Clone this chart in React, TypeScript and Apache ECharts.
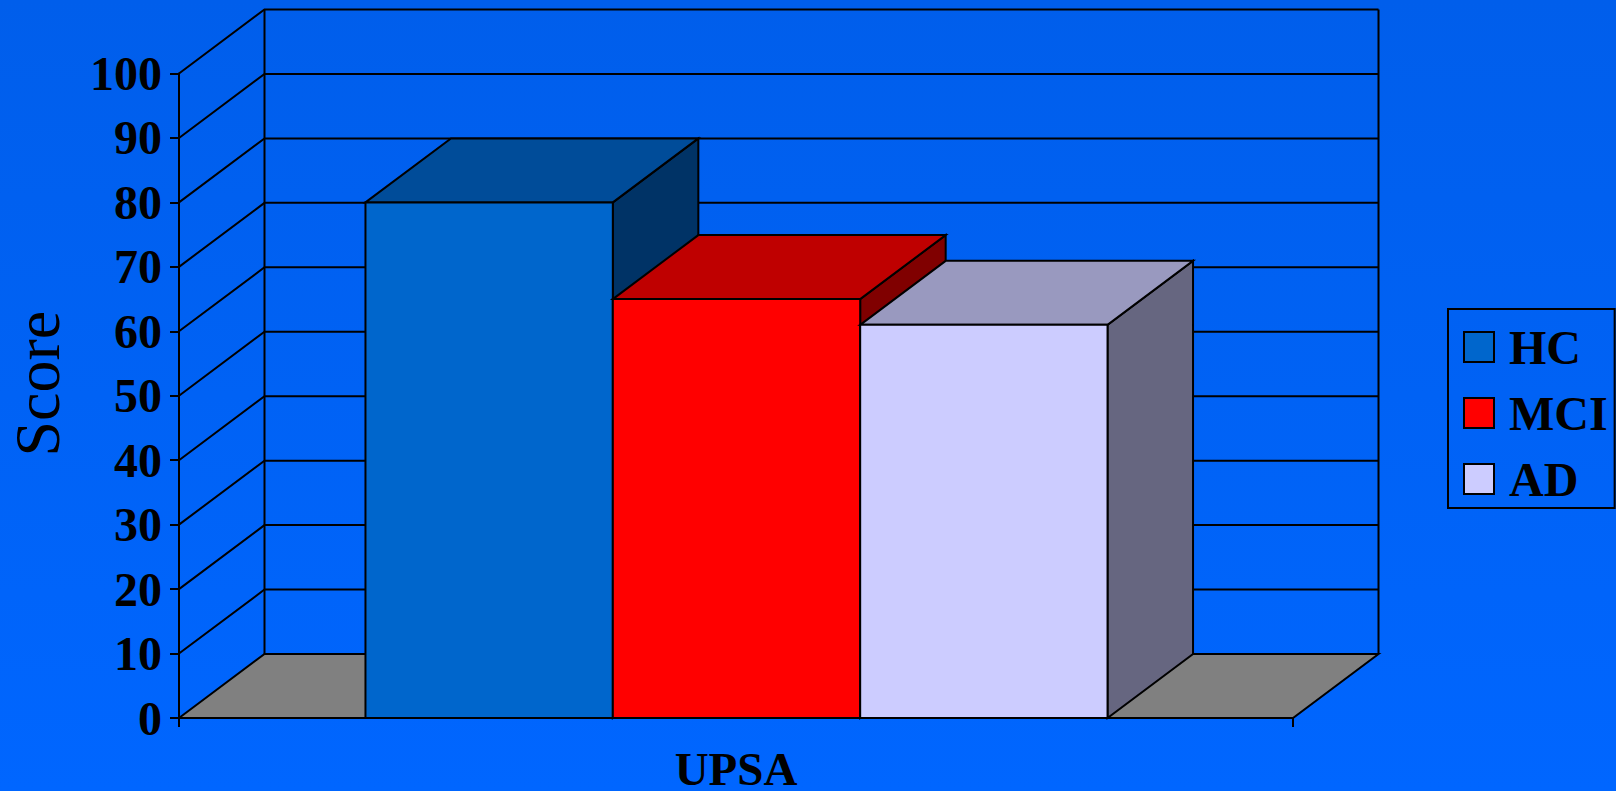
import React, { useEffect, useRef } from "react";
import * as echarts from "echarts";

const categories = ["UPSA"];
const yTicks = [10, 20, 30, 40, 50, 60, 70, 80, 90, 100];
const hcValues = [80];
const mciValues = [65];
const adValues = [61];

const FONT = "'Liberation Serif', 'Times New Roman', serif";
const DX = 85.5;
const DY = -64;
const LINE = 2;
const STROKE = { stroke: "#000", lineWidth: LINE };

function wallItem(_p: any, api: any) {
  const v = api.value(0);
  const c = api.coord([0, v]);
  const band = api.size([1, 0])[0];
  const left = c[0] - band / 2;
  const right = c[0] + band / 2;
  return {
    type: "polyline",
    shape: { points: [[left, c[1]], [left + DX, c[1] + DY], [right + DX, c[1] + DY]] },
    style: { ...STROKE, fill: "none" },
  };
}

function floorItem(_p: any, api: any) {
  const c = api.coord([0, 0]);
  const top = api.coord([0, 100]);
  const band = api.size([1, 0])[0];
  const left = c[0] - band / 2;
  const right = c[0] + band / 2;
  return {
    type: "group",
    children: [
      {
        type: "polygon",
        shape: { points: [[left, c[1]], [left + DX, c[1] + DY], [right + DX, c[1] + DY], [right, c[1]]] },
        style: { ...STROKE, fill: "#808080" },
      },
      {
        type: "line",
        shape: { x1: left + DX, y1: c[1] + DY, x2: left + DX, y2: top[1] + DY },
        style: STROKE,
      },
      {
        type: "line",
        shape: { x1: right + DX, y1: c[1] + DY, x2: right + DX, y2: top[1] + DY },
        style: STROKE,
      },
    ],
  };
}

function barItem(index: number, front: string, topFace: string, side: string) {
  return (_p: any, api: any) => {
    const t = api.coord([0, api.value(0)]);
    const b = api.coord([0, 0]);
    const band = api.size([1, 0])[0];
    const w = (band * 2) / 9 - 0.2;
    const x0 = t[0] + (index - 1.5) * w + 0.5;
    const x1 = x0 + w;
    return {
      type: "group",
      children: [
        {
          type: "polygon",
          shape: { points: [[x1, t[1]], [x1 + DX, t[1] + DY], [x1 + DX, b[1] + DY], [x1, b[1]]] },
          style: { ...STROKE, fill: side },
        },
        {
          type: "polygon",
          shape: { points: [[x0, t[1]], [x0 + DX, t[1] + DY], [x1 + DX, t[1] + DY], [x1, t[1]]] },
          style: { ...STROKE, fill: topFace },
        },
        {
          type: "rect",
          shape: { x: x0, y: t[1], width: w, height: b[1] - t[1] },
          style: { ...STROKE, fill: front },
        },
      ],
    };
  };
}

export default function App() {
  const ref = useRef<HTMLDivElement>(null);
  useEffect(() => {
    const chart = echarts.init(ref.current!, undefined, { renderer: "svg" });
    chart.setOption({
      animation: false,
      backgroundColor: {
        type: "linear",
        x: 0,
        y: 0,
        x2: 0,
        y2: 1,
        colorStops: [
          { offset: 0, color: "#005EEB" },
          { offset: 1, color: "#0066FF" },
        ],
      },
      grid: { left: 179, top: 73.5, width: 1114, height: 644.5, outerBoundsMode: "none", containLabel: false },
      legend: {
        data: ["HC", "MCI", "AD"],
        orient: "vertical",
        left: 1448,
        top: 309,
        padding: [14, 7, 5, 15],
        itemWidth: 30,
        itemHeight: 30,
        itemGap: 18,
        borderColor: "#000",
        borderWidth: 2,
        backgroundColor: "transparent",
        selectedMode: false,
        icon: "rect",
        itemStyle: { borderColor: "#000", borderWidth: 2 },
        textStyle: {
          color: "#000",
          fontFamily: FONT,
          fontWeight: "bold",
          fontSize: 48,
          padding: [0, 0, 0, 10],
        },
      },
      xAxis: {
        type: "category",
        data: categories,
        axisLine: { show: true, lineStyle: { color: "#000", width: LINE } },
        axisTick: { show: true, length: 9, lineStyle: { color: "#000", width: LINE } },
        axisLabel: { color: "#000", fontFamily: FONT, fontWeight: "bold", fontSize: 47, lineHeight: 38, margin: 32 },
        splitLine: { show: false },
      },
      yAxis: {
        type: "value",
        min: 0,
        max: 100,
        interval: 10,
        name: "Score",
        nameLocation: "middle",
        nameGap: 110,
        nameRotate: 90,
        nameMoveOverlap: false,
        nameTextStyle: { color: "#000", fontFamily: FONT, fontSize: 64, padding: [0, 0, 0, 24] },
        axisLine: { show: true, lineStyle: { color: "#000", width: LINE } },
        axisTick: { show: true, length: 9, lineStyle: { color: "#000", width: LINE } },
        axisLabel: { color: "#000", fontFamily: FONT, fontWeight: "bold", fontSize: 48, margin: 17 },
        splitLine: { show: false },
      },
      series: [
        { type: "custom", name: "walls", data: yTicks.map((v) => [v]), renderItem: wallItem, silent: true, z: 1, encode: { y: 0 } },
        { type: "custom", name: "floor", data: [[0]], renderItem: floorItem, silent: true, z: 1, encode: { y: 0 } },
        { type: "custom", name: "HC", data: hcValues.map((v) => [v]), renderItem: barItem(0, "#0066CC", "#004C99", "#003366"), itemStyle: { color: "#0066CC" }, z: 2, encode: { y: 0 } },
        { type: "custom", name: "MCI", data: mciValues.map((v) => [v]), renderItem: barItem(1, "#FF0000", "#BF0000", "#800000"), itemStyle: { color: "#FF0000" }, z: 3, encode: { y: 0 } },
        { type: "custom", name: "AD", data: adValues.map((v) => [v]), renderItem: barItem(2, "#CCCCFF", "#9999BF", "#666680"), itemStyle: { color: "#CCCCFF" }, z: 4, encode: { y: 0 } },
      ],
    });
    return () => chart.dispose();
  }, []);
  return <div ref={ref} style={{ position: "fixed", left: 0, top: 0, width: 1616, height: 791 }} />;
}
